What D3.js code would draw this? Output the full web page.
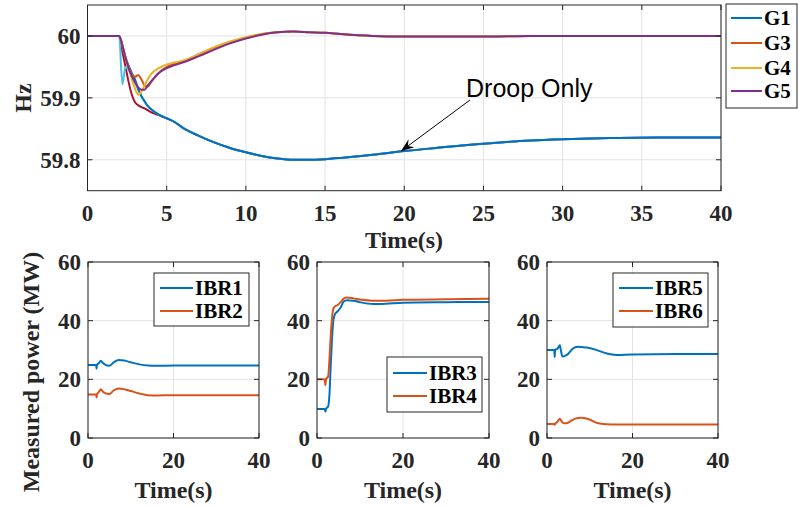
<!DOCTYPE html>
<html><head><meta charset="utf-8">
<script src="https://cdn.jsdelivr.net/npm/d3@7"></script>
<style>body{margin:0;background:#fff}svg{display:block}
.serif{font-family:"Liberation Serif","Tinos","Times New Roman","DejaVu Serif",serif;font-weight:bold}
</style>
</head><body>
<svg id="c" width="798" height="506"></svg>
<script>
// ---------- DATA ----------
const tTop = [0, 2, 2.2, 2.4, 2.6, 2.8, 3.0, 3.2, 3.4, 3.6, 3.8, 4.0, 4.5, 5, 5.5, 6, 7, 8, 9, 10, 11, 12, 13, 14, 15, 16, 18, 20, 22, 25, 28, 30, 33, 36, 40];
const G1 = [60, 60, 59.985, 59.965, 59.952, 59.94, 59.93, 59.915, 59.903, 59.895, 59.887, 59.882, 59.873, 59.867, 59.861, 59.852, 59.839, 59.828, 59.819, 59.812, 59.806, 59.802, 59.8, 59.8, 59.801, 59.803, 59.808, 59.814, 59.819, 59.826, 59.831, 59.833, 59.835, 59.836, 59.836];
const G3 = [60, 60, 59.985, 59.965, 59.95, 59.938, 59.934, 59.937, 59.93, 59.92, 59.918, 59.925, 59.94, 59.95, 59.955, 59.958, 59.97, 59.981, 59.99, 59.997, 60.003, 60.006, 60.007, 60.006, 60.005, 60.003, 60.0, 59.999, 59.999, 59.999, 60, 60, 60, 60, 60];
const G4 = [60, 60, 59.985, 59.965, 59.948, 59.93, 59.915, 59.905, 59.91, 59.92, 59.93, 59.938, 59.948, 59.954, 59.957, 59.96, 59.97, 59.982, 59.991, 59.998, 60.003, 60.006, 60.007, 60.006, 60.005, 60.003, 60.0, 59.999, 59.999, 59.999, 60, 60, 60, 60, 60];
const G5 = [60, 60, 59.985, 59.965, 59.948, 59.935, 59.925, 59.917, 59.913, 59.913, 59.92, 59.926, 59.94, 59.948, 59.953, 59.957, 59.967, 59.978, 59.988, 59.996, 60.002, 60.006, 60.007, 60.006, 60.005, 60.003, 60.0, 59.999, 59.999, 59.999, 60, 60, 60, 60, 60];
const G1b = [60, 60, 59.922, 59.95, 59.945, 59.935, 59.925, 59.913, 59.902, 59.894, 59.887, 59.882, 59.873, 59.867, 59.861, 59.852, 59.839, 59.828, 59.819, 59.812, 59.806, 59.802, 59.8, 59.8, 59.801, 59.803, 59.808, 59.814, 59.819, 59.826, 59.831, 59.833, 59.835, 59.836, 59.836];
const G1c = [60, 60, 59.975, 59.95, 59.925, 59.905, 59.893, 59.888, 59.885, 59.883, 59.88, 59.877, 59.872, 59.867, 59.861, 59.852, 59.839, 59.828, 59.819, 59.812, 59.806, 59.802, 59.8, 59.8, 59.801, 59.803, 59.808, 59.814, 59.819, 59.826, 59.831, 59.833, 59.835, 59.836, 59.836];
const topNames = ["G1", "G3", "G4", "G5"];
const topTicksX = [0, 5, 10, 15, 20, 25, 30, 35, 40];
const topTicksY = [59.8, 59.9, 60];

const tP1 = [0, 1.9, 2.0, 2.1, 2.5, 3.0, 3.5, 4.0, 5.0, 6.0, 7.2, 8.5, 10, 12, 14, 16, 20, 30, 40];
const IBR1 = [24.9, 24.9, 23.6, 24.9, 25.5, 26.3, 25.6, 25.0, 24.6, 25.8, 26.6, 26.4, 25.8, 25.1, 24.7, 24.6, 24.7, 24.7, 24.7];
const IBR2 = [14.8, 14.8, 13.8, 14.8, 15.6, 16.6, 15.8, 15.3, 15.0, 16.2, 16.9, 16.6, 16.0, 15.2, 14.6, 14.5, 14.6, 14.6, 14.6];
const tP2 = [0, 1.8, 1.95, 2.1, 2.6, 2.9, 3.2, 3.5, 3.8, 4.2, 4.8, 5.5, 6.2, 7.0, 8.5, 10, 13, 16, 20, 30, 40];
const IBR3 = [9.9, 9.9, 9.0, 9.9, 10.8, 15, 25, 34, 40, 42.3, 43.2, 44.5, 46.5, 47.0, 46.8, 46.3, 45.7, 45.8, 46.1, 46.3, 46.4];
const IBR4 = [20, 20, 18, 20, 21, 27, 35, 41, 44, 44.9, 45.3, 46.3, 47.5, 47.9, 47.6, 47.2, 46.8, 46.8, 47.1, 47.3, 47.5];
const tP3 = [0, 1.7, 1.8, 1.9, 2.5, 3.0, 3.3, 3.6, 4.2, 4.9, 6.0, 7.2, 8.0, 9.6, 12, 14, 16.2, 20, 30, 40];
const IBR5 = [30, 30, 27.6, 30, 30.5, 31.6, 29.5, 27.8, 28.0, 28.6, 30.4, 31.1, 31.0, 30.8, 29.8, 28.8, 28.3, 28.5, 28.6, 28.6];
const IBR6 = [4.8, 4.8, 4.5, 4.8, 5.6, 6.6, 6.0, 5.3, 5.0, 5.2, 6.2, 6.8, 6.9, 6.5, 5.0, 4.7, 4.6, 4.6, 4.6, 4.6];
const botTicksX = [0, 20, 40];
const botTicksY = [0, 20, 40, 60];

// ---------- STYLE ----------
const C = {blue:"#0072BD", orange:"#D95319", yellow:"#EDB120", purple:"#7E2F8E", lblue:"#4DBEEE", dred:"#A2142F"};
const AX = "#262626", GRID = "#e3e3e3";
const svg = d3.select("#c");
let clipN = 0;

function panel(x0, x1, y0, y1, xd, yd, xt, yt, fmtY) {
  const x = d3.scaleLinear().domain(xd).range([x0, x1]);
  const y = d3.scaleLinear().domain(yd).range([y1, y0]);
  const g = svg.append("g");
  g.append("g").selectAll("line").data(xt).join("line")
    .attr("x1", d => x(d)).attr("x2", d => x(d)).attr("y1", y0).attr("y2", y1)
    .attr("stroke", GRID).attr("stroke-width", 1);
  g.append("g").selectAll("line").data(yt).join("line")
    .attr("y1", d => y(d)).attr("y2", d => y(d)).attr("x1", x0).attr("x2", x1)
    .attr("stroke", GRID).attr("stroke-width", 1);
  const clipId = "clip" + (clipN++);
  svg.append("clipPath").attr("id", clipId).append("rect")
    .attr("x", x0).attr("y", y0).attr("width", x1 - x0).attr("height", y1 - y0);
  const lines = svg.append("g").attr("clip-path", `url(#${clipId})`);
  const frame = svg.append("g");
  frame.append("rect").attr("x", x0).attr("y", y0).attr("width", x1 - x0).attr("height", y1 - y0)
    .attr("fill", "none").attr("stroke", AX).attr("stroke-width", 1);
  const tl = 5;
  frame.append("g").selectAll("path").data(xt).join("path")
    .attr("d", d => `M${x(d)},${y1}v${-tl}M${x(d)},${y0}v${tl}`).attr("stroke", AX);
  frame.append("g").selectAll("path").data(yt).join("path")
    .attr("d", d => `M${x0},${y(d)}h${tl}M${x1},${y(d)}h${-tl}`).attr("stroke", AX);
  frame.append("g").selectAll("text").data(xt).join("text").attr("class", "serif")
    .attr("x", d => x(d)).attr("y", y1 + 30).attr("text-anchor", "middle")
    .attr("font-size", 23).attr("fill", AX)
    .text(d => d);
  frame.append("g").selectAll("text").data(yt).join("text").attr("class", "serif")
    .attr("x", x0 - 7).attr("y", d => y(d) + 8).attr("text-anchor", "end")
    .attr("font-size", 23).attr("fill", AX)
    .text(d => fmtY(d));
  return {x, y, lines, frame};
}

function drawLine(p, t, v, color, w) {
  const line = d3.line().x((d, i) => p.x(t[i])).y(d => p.y(d)).curve(d3.curveMonotoneX);
  p.lines.append("path").datum(v).attr("d", line).attr("fill", "none")
    .attr("stroke", color).attr("stroke-width", w).attr("stroke-linejoin", "round");
}

function legend(x0, y0, w, h, items, rowY, lineX0, lineX1) {
  const g = svg.append("g");
  g.append("rect").attr("x", x0).attr("y", y0).attr("width", w).attr("height", h)
    .attr("fill", "#fff").attr("stroke", AX).attr("stroke-width", 1);
  items.forEach((it, i) => {
    g.append("line").attr("x1", lineX0).attr("x2", lineX1).attr("y1", rowY[i]).attr("y2", rowY[i])
      .attr("stroke", it.c).attr("stroke-width", 2);
    g.append("text").attr("class", "serif").attr("x", lineX1 + 2).attr("y", rowY[i] + 7)
      .attr("font-size", 21).attr("fill", "#000")
      .text(it.n);
  });
}

// ---------- TOP ----------
const topP = panel(87.5, 721, 5, 190.7, [0, 40], [59.75, 60.05], topTicksX, topTicksY, d => d === 60 ? "60" : d3.format(".1f")(d));
drawLine(topP, tTop, G1c, C.dred, 2);
drawLine(topP, tTop, G1b, C.lblue, 2);
drawLine(topP, tTop, G1, C.blue, 2);
drawLine(topP, tTop, G3, C.orange, 2);
drawLine(topP, tTop, G4, C.yellow, 2);
drawLine(topP, tTop, G5, C.purple, 2);

svg.append("text").attr("class", "serif").attr("x", 404).attr("y", 248).attr("text-anchor", "middle")
  .attr("font-size", 24).attr("fill", AX).text("Time(s)");
svg.append("text").attr("class", "serif").attr("transform", "translate(31,98) rotate(-90)").attr("text-anchor", "middle")
  .attr("font-size", 24).attr("fill", AX).text("Hz");

// annotation arrow
const ax0 = 470, ay0 = 100, ax1 = topP.x(19.8), ay1 = topP.y(59.814);
svg.append("line").attr("x1", ax0).attr("y1", ay0).attr("x2", ax1).attr("y2", ay1).attr("stroke", "#000").attr("stroke-width", 1);
{
  const ang = Math.atan2(ay1 - ay0, ax1 - ax0);
  const L = 13, Wd = 5;
  const bx = ax1 - L * Math.cos(ang), by = ay1 - L * Math.sin(ang);
  const nx = -Math.sin(ang), ny = Math.cos(ang);
  const mx = ax1 - 0.65 * L * Math.cos(ang), my = ay1 - 0.65 * L * Math.sin(ang);
  svg.append("path").attr("d", `M${ax1},${ay1}L${bx + nx * Wd},${by + ny * Wd}L${mx},${my}L${bx - nx * Wd},${by - ny * Wd}Z`).attr("fill", "#000");
}
svg.append("text").attr("x", 466).attr("y", 97).attr("font-family", "'Liberation Sans',Arial,sans-serif")
  .attr("font-size", 25).attr("fill", "#000").text("Droop Only");

legend(726, 4, 71, 104, topNames.map((n, i) => ({n, c: [C.blue, C.orange, C.yellow, C.purple][i]})), [18, 43, 68, 91], 731, 762);

// ---------- BOTTOM ----------
const yfmt = d => d;
const p1 = panel(88, 259, 262, 438, [0, 40], [0, 60], botTicksX, botTicksY, yfmt);
drawLine(p1, tP1, IBR1, C.blue, 2);
drawLine(p1, tP1, IBR2, C.orange, 2);
const p2 = panel(317, 489, 262, 438, [0, 40], [0, 60], botTicksX, botTicksY, yfmt);
drawLine(p2, tP2, IBR3, C.blue, 2);
drawLine(p2, tP2, IBR4, C.orange, 2);
const p3 = panel(547, 718, 262, 438, [0, 40], [0, 60], botTicksX, botTicksY, yfmt);
drawLine(p3, tP3, IBR5, C.blue, 2);
drawLine(p3, tP3, IBR6, C.orange, 2);

legend(154, 273, 95, 53, [{n:"IBR1", c:C.blue}, {n:"IBR2", c:C.orange}], [288, 311], 160, 193);
legend(387, 357, 95, 55, [{n:"IBR3", c:C.blue}, {n:"IBR4", c:C.orange}], [373, 396], 393, 427);
legend(613, 273, 95, 54, [{n:"IBR5", c:C.blue}, {n:"IBR6", c:C.orange}], [288, 311], 619, 653);

[173.5, 403, 632.5].forEach(cx => {
  svg.append("text").attr("class", "serif").attr("x", cx).attr("y", 498).attr("text-anchor", "middle")
    .attr("font-size", 24).attr("fill", AX).text("Time(s)");
});
svg.append("text").attr("class", "serif").attr("transform", "translate(39,372) rotate(-90)").attr("text-anchor", "middle")
  .attr("font-size", 24).attr("fill", AX).text("Measured power (MW)");
</script>
</body></html>
